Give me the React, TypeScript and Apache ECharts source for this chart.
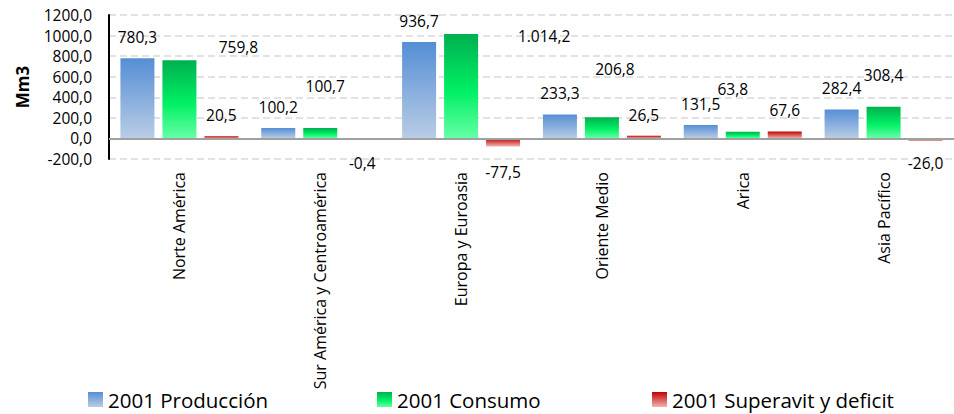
import React, { useEffect, useRef } from "react";
import * as echarts from "echarts";

// Regions and 2001 gas figures (Mm3)
const categories = [
  "Norte América",
  "Sur América y Centroamérica",
  "Europa y Euroasia",
  "Oriente Medio",
  "Arica",
  "Asia Pacífico",
];
const produccion = [780.3, 100.2, 936.7, 233.3, 131.5, 282.4];
const consumo = [759.8, 100.7, 1014.2, 206.8, 63.8, 308.4];
const balance = [20.5, -0.4, -77.5, 26.5, 67.6, -26.0];

const seriesNames = ["2001 Producción", "2001 Consumo", "2001 Superavit y deficit"];

// Hand-placed label nudges (px) for the consumption and balance labels
const consumoLabelShift = [[59, 8], [5, -21], [83, 23], [13, -27], [-10, -22], [0, -11]];
const balanceLabelShift = [[0, 0], [0, 1], [0, 2], [0, 0], [0, 0], [0, -2]];

const FONT = "'Open Sans', 'Noto Sans', sans-serif";

function fmtValue(v: number): string {
  const [intPart, dec] = Math.abs(v).toFixed(1).split(".");
  const grouped = intPart.replace(/\B(?=(\d{3})+(?!\d))/g, ".");
  return (v < 0 ? "-" : "") + grouped + "," + dec;
}

function fmtAxis(v: number): string {
  return v.toFixed(1).replace(".", ",");
}

function grad(stops: [number, string][]) {
  return new echarts.graphic.LinearGradient(
    0, 0, 0, 1,
    stops.map(([offset, color]) => ({ offset, color }))
  );
}

function pointData(values: number[], shift?: number[][]) {
  return values.map((v, i) => {
    const s = shift ? shift[i] : [0, 0];
    return {
      value: v,
      label: {
        position: v < 0 ? "bottom" : "top",
        distance: v < 0 ? 16 : 13,
        offset: s,
      },
    };
  });
}

export default function App() {
  const ref = useRef<HTMLDivElement>(null);

  useEffect(() => {
    document.body.style.margin = "0";
    if (!ref.current) return;
    const chart = echarts.init(ref.current, undefined, { renderer: "svg" });

    const labelStyle = {
      show: true,
      fontFamily: FONT,
      fontSize: 15.5,
      color: "#000",
      formatter: (p: any) => fmtValue(p.value),
    };

    const legendBase = {
      top: 389,
      padding: 0,
      itemWidth: 15,
      itemHeight: 15,
      icon: "rect",
      selectedMode: false,
      textStyle: { fontFamily: FONT, fontSize: 20.5, color: "#000" },
    };

    chart.setOption({
      animation: false,
      backgroundColor: "#fff",
      grid: { left: 109, top: 15, width: 853, height: 144 },
      legend: [
        { ...legendBase, left: 88, data: [seriesNames[0]] },
        { ...legendBase, left: 377, data: [seriesNames[1]] },
        { ...legendBase, left: 652, data: [seriesNames[2]] },
      ],
      xAxis: {
        type: "category",
        data: categories,
        axisLine: { show: false, onZero: false },
        axisTick: { show: false },
        splitLine: { show: false },
        axisLabel: {
          interval: 0,
          rotate: 90,
          margin: 13,
          fontFamily: FONT,
          fontSize: 16,
          color: "#000",
        },
      },
      yAxis: {
        type: "value",
        min: -200,
        max: 1200,
        interval: 200,
        name: "Mm3",
        nameLocation: "middle",
        nameGap: 78,
        nameTextStyle: { fontFamily: FONT, fontWeight: "bold", fontSize: 17, color: "#000" },
        axisLine: { show: true, lineStyle: { color: "#000", width: 2 } },
        axisTick: { show: false },
        axisLabel: {
          margin: 17,
          fontFamily: FONT,
          fontSize: 15.5,
          color: "#000",
          formatter: (v: number) => fmtAxis(v),
        },
        splitLine: {
          show: true,
          lineStyle: { color: "#d9d9d9", width: 1.5, type: [7, 4] },
        },
      },
      series: [
        {
          name: seriesNames[0],
          type: "bar",
          barWidth: 34,
          barGap: "23.5%",
          data: pointData(produccion),
          itemStyle: { color: grad([[0, "#558ED5"], [1, "#B9CDE5"]]) },
          label: labelStyle,
        },
        {
          name: seriesNames[1],
          type: "bar",
          barWidth: 34,
          barGap: "23.5%",
          data: pointData(consumo, consumoLabelShift),
          itemStyle: {
            color: grad([[0, "#00B050"], [0.55, "#00F064"], [1, "#66FFA6"]]),
          },
          label: labelStyle,
        },
        {
          name: seriesNames[2],
          type: "bar",
          barWidth: 34,
          barGap: "23.5%",
          data: pointData(balance, balanceLabelShift),
          itemStyle: { color: grad([[0, "#C00000"], [1, "#F0B4B4"]]) },
          label: labelStyle,
          markLine: {
            silent: true,
            symbol: ["none", "none"],
            label: { show: false },
            lineStyle: { color: "#a0a0a0", width: 2, type: "solid" },
            data: [{ yAxis: 0 }],
          },
        },
      ],
    });

    return () => chart.dispose();
  }, []);

  return <div ref={ref} style={{ width: 954, height: 414 }} />;
}
